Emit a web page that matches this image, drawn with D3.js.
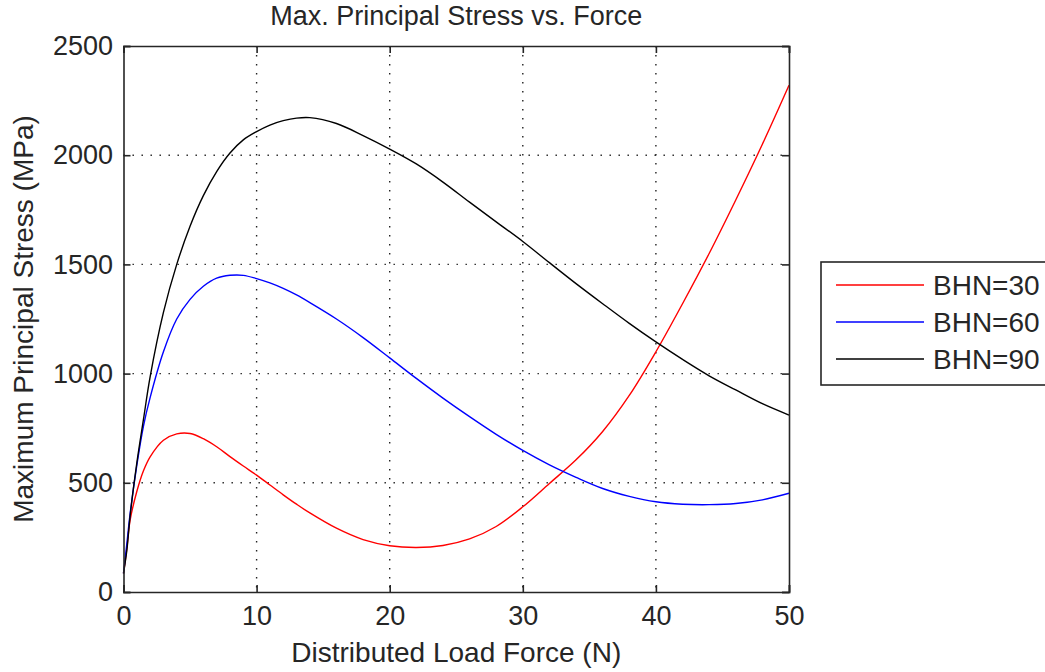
<!DOCTYPE html>
<html>
<head>
<meta charset="utf-8">
<script src="https://cdn.jsdelivr.net/npm/d3@7"></script>
<style>
    body { margin: 0; background: #fff; }
    text { font-family: "Liberation Sans", Arial, sans-serif; fill: #262626; }
</style>
</head>
<body>
<svg id="chart" width="1045" height="672"></svg>
<script>
//force values (N) shared by all three series
const forces = [0, 0.25, 0.5, 1, 1.5, 2, 3, 4, 5, 6, 7, 8, 9, 10, 11, 12, 13, 14, 16, 18, 20,
    22, 24, 26, 28, 30, 32, 34, 36, 38, 40, 42, 44, 46, 48, 50];

//max principal stress (MPa)
const bhn30 = [85, 200, 330, 460, 555, 619, 695, 724, 726, 702, 665, 620, 577, 535, 490, 445, 402, 362, 292, 240, 212,
    204, 213, 243, 300, 390, 497, 605, 735, 900, 1100, 1320, 1550, 1795, 2050, 2320];
const bhn60 = [85, 220, 360, 580, 760, 890, 1100, 1250, 1340, 1400, 1437, 1450, 1450, 1435, 1415, 1390, 1360, 1325, 1250, 1165, 1072,
    978, 888, 803, 722, 648, 582, 525, 474, 438, 413, 402, 400, 405, 422, 452];
const bhn90 = [85, 190, 350, 590, 790, 985, 1280, 1500, 1675, 1815, 1925, 2010, 2070, 2108, 2138, 2158, 2170, 2172, 2145, 2090, 2028,
    1960, 1877, 1785, 1695, 1605, 1508, 1412, 1320, 1230, 1145, 1065, 990, 925, 862, 810];

const seriesNames = ["BHN=30", "BHN=60", "BHN=90"];
const seriesColors = ["#ff0000", "#0000ff", "#000000"];
const xTicks = [0, 10, 20, 30, 40, 50];
const yTicks = [0, 500, 1000, 1500, 2000, 2500];

const margin = { left: 123.5, right: 789, top: 46, bottom: 592 };
const svg = d3.select("#chart");

const x = d3.scaleLinear().domain([0, 50]).range([margin.left, margin.right]);
const y = d3.scaleLinear().domain([0, 2500]).range([margin.bottom, margin.top]);

//dotted grid
function drawGrid() {
    const g = svg.append("g").attr("class", "grid");
    g.selectAll(".gx").data(xTicks.slice(1, -1)).enter().append("line")
        .attr("x1", d => x(d)).attr("x2", d => x(d))
        .attr("y1", margin.top).attr("y2", margin.bottom);
    g.selectAll(".gy").data(yTicks.slice(1, -1)).enter().append("line")
        .attr("y1", d => y(d)).attr("y2", d => y(d))
        .attr("x1", margin.left).attr("x2", margin.right);
    g.selectAll("line")
        .attr("stroke", "#222")
        .attr("stroke-width", 1.4)
        .attr("stroke-dasharray", "1.4,7.6");
}

//box axes with inward ticks, matlab style
function drawAxes() {
    const tick = 7;
    const bottom = d3.axisBottom(x).tickValues(xTicks).tickSize(-tick).tickPadding(14).tickFormat(d3.format("d"));
    const left = d3.axisLeft(y).tickValues(yTicks).tickSize(-tick).tickPadding(10.5).tickFormat(d3.format("d"));
    const top = d3.axisTop(x).tickValues(xTicks).tickSize(-tick).tickFormat("");
    const right = d3.axisRight(y).tickValues(yTicks).tickSize(-tick).tickFormat("");

    svg.append("g").attr("transform", `translate(0,${margin.bottom})`).call(bottom);
    svg.append("g").attr("transform", `translate(${margin.left},0)`).call(left);
    svg.append("g").attr("transform", `translate(0,${margin.top})`).call(top);
    svg.append("g").attr("transform", `translate(${margin.right},0)`).call(right);

    svg.selectAll(".domain").attr("stroke", "#262626").attr("stroke-width", 1.6);
    svg.selectAll(".tick line").attr("stroke", "#262626").attr("stroke-width", 1.6);
    svg.selectAll(".tick text")
        .style("font-family", '"Liberation Sans", Arial, sans-serif')
        .style("font-size", "27px")
        .attr("fill", "#262626");
}

function drawLines() {
    const line = d3.line()
        .x(d => x(d[0]))
        .y(d => y(d[1]))
        .curve(d3.curveCatmullRom.alpha(0.5));
    [bhn30, bhn60, bhn90].forEach((vals, i) => {
        svg.append("path")
            .datum(forces.map((f, j) => [f, vals[j]]))
            .attr("fill", "none")
            .attr("stroke", seriesColors[i])
            .attr("stroke-width", 1.4)
            .attr("d", line);
    });
}

function drawLabels() {
    svg.append("text")
        .attr("x", (margin.left + margin.right) / 2).attr("y", 25)
        .attr("text-anchor", "middle")
        .style("font-size", "27px")
        .text("Max. Principal Stress vs. Force");
    svg.append("text")
        .attr("x", (margin.left + margin.right) / 2).attr("y", 662)
        .attr("text-anchor", "middle")
        .style("font-size", "28px")
        .text("Distributed Load Force (N)");
    svg.append("text")
        .attr("transform", `translate(33,${(margin.top + margin.bottom) / 2}) rotate(-90)`)
        .attr("text-anchor", "middle")
        .style("font-size", "28px")
        .text("Maximum Principal Stress (MPa)");
}

function drawLegend() {
    const g = svg.append("g").attr("transform", "translate(821,262)");
    g.append("rect")
        .attr("width", 240).attr("height", 123)
        .attr("fill", "#fff").attr("stroke", "#262626").attr("stroke-width", 1.6);
    seriesNames.forEach((name, i) => {
        const cy = 23 + i * 37;
        g.append("line")
            .attr("x1", 15).attr("x2", 103).attr("y1", cy).attr("y2", cy)
            .attr("stroke", seriesColors[i]).attr("stroke-width", 1.4);
        g.append("text")
            .attr("x", 112).attr("y", cy + 10)
            .style("font-size", "28px")
            .text(name);
    });
}

drawGrid();
drawLines();
drawAxes();
drawLabels();
drawLegend();
</script>
</body>
</html>
